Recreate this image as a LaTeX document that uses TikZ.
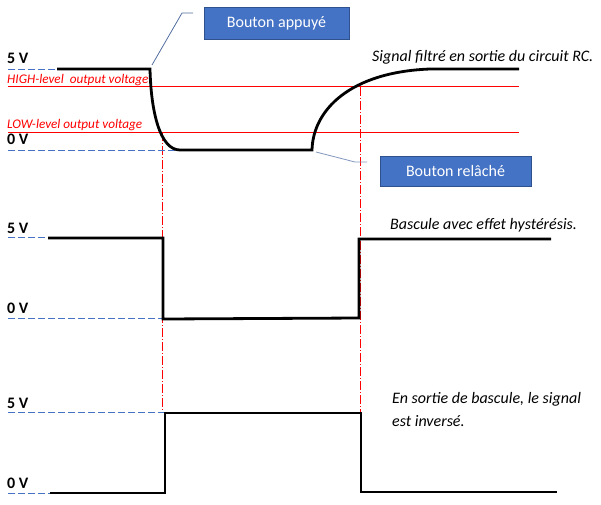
\documentclass[tikz,border=0pt]{standalone}
\usepackage{fontspec}
\setmainfont{Carlito}
\definecolor{boxblue}{RGB}{68,114,196}
\definecolor{boxedge}{RGB}{47,82,143}
\definecolor{guideblue}{RGB}{68,114,196}
\definecolor{calloutA}{RGB}{84,110,160}
\definecolor{calloutB}{RGB}{130,150,190}
\definecolor{lvlred}{RGB}{255,0,0}
\begin{document}
\begin{tikzpicture}[x=1pt,y=-1pt,
  sig/.style={line width=2.8pt, line join=miter},
  lvl/.style={draw=lvlred, line width=0.9pt},
  guide/.style={draw=guideblue, line width=0.9pt, dash pattern=on 7pt off 3pt},
  vguide/.style={draw=lvlred, line width=0.8pt, dash pattern=on 9pt off 2pt on 1pt off 2pt},
  volt/.style={font=\fontsize{16}{19}\selectfont\bfseries, anchor=base west, inner sep=0pt},
  note/.style={font=\fontsize{16}{19}\selectfont\itshape, anchor=base west, inner sep=0pt},
  lvltxt/.style={font=\fontsize{13.2}{16}\selectfont\itshape, text=lvlred, anchor=base west, inner sep=0pt},
  btn/.style={fill=boxblue, draw=boxedge, line width=0.8pt, text=white, font=\fontsize{16}{19}\selectfont, inner sep=0pt},
  calloutAline/.style={draw=calloutA, line width=0.8pt},
  calloutBline/.style={draw=calloutB, line width=0.8pt}
]
\useasboundingbox (0,0) rectangle (601,504);

% level lines
\draw[lvl] (8,86) -- (519,86);
\draw[lvl] (8,132) -- (519,132);

% vertical red guides
\draw[vguide] (162,132) -- (162,413);
\draw[vguide] (360,87) -- (360,413);

% blue dashed guides
\draw[guide] (8,69) -- (56,69);
\draw[guide] (8,150) -- (180,150);
\draw[guide] (8,237) -- (48,237);
\draw[guide] (8,318) -- (163,318);
\draw[guide] (8,412) -- (165,412);
\draw[guide] (8,493) -- (50,493);

% signals
\draw[sig] (57,69) -- (150,69) .. controls (151,112) and (160,150) .. (180,150) -- (312,150) .. controls (313,110) and (350,72) .. (430,69) -- (519,69);
\draw[sig] (48,238) -- (163,238) -- (163,319) -- (359,318) -- (359,239) -- (551,239);
\draw[sig] (50,493) -- (165,493) -- (165,413) -- (361,413) -- (361,492) -- (557,492);

% voltage labels
\node[volt] (v5a) at (7,63) {5 V};
\node[volt] (v0a) at (7,144) {0 V};
\node[volt] (v5b) at (7,233) {5 V};
\node[volt] (v0b) at (7,313) {0 V};
\node[volt] (v5c) at (7,408) {5 V};
\node[volt] (v0c) at (7,488) {0 V};

% level labels
\node[lvltxt] (hi) at (7,83) {HIGH-level\ \ output voltage};
\node[lvltxt] (lo) at (7,128) {LOW-level output voltage};

% notes
\node[note] (n1) at (372,61) {Signal filtré en sortie du circuit RC.};
\node[note] (n2) at (390,229) {Bascule avec effet hystérésis.};
\node[note] (n3) at (392,403) {En sortie de bascule, le signal};
\node[note] (n4) at (392,426) {est inversé.};

% buttons
\node[btn, minimum width=145pt, minimum height=32pt] (ba) at (276.5,23) {Bouton appuyé};
\node[btn, minimum width=151pt, minimum height=30pt] (br) at (455.5,171) {Bouton relâché};

% callouts
\coordinate (pa) at (152,65);
\coordinate (pb) at (182,13);
\coordinate (pc) at (193,13);
\draw[calloutAline] (pa) -- (pb) -- (pc);
\coordinate (qa) at (316,152);
\coordinate (qb) at (355,162);
\coordinate (qc) at (367,162);
\draw[calloutBline] (qa) -- (qb) -- (qc);
\end{tikzpicture}
\end{document}
